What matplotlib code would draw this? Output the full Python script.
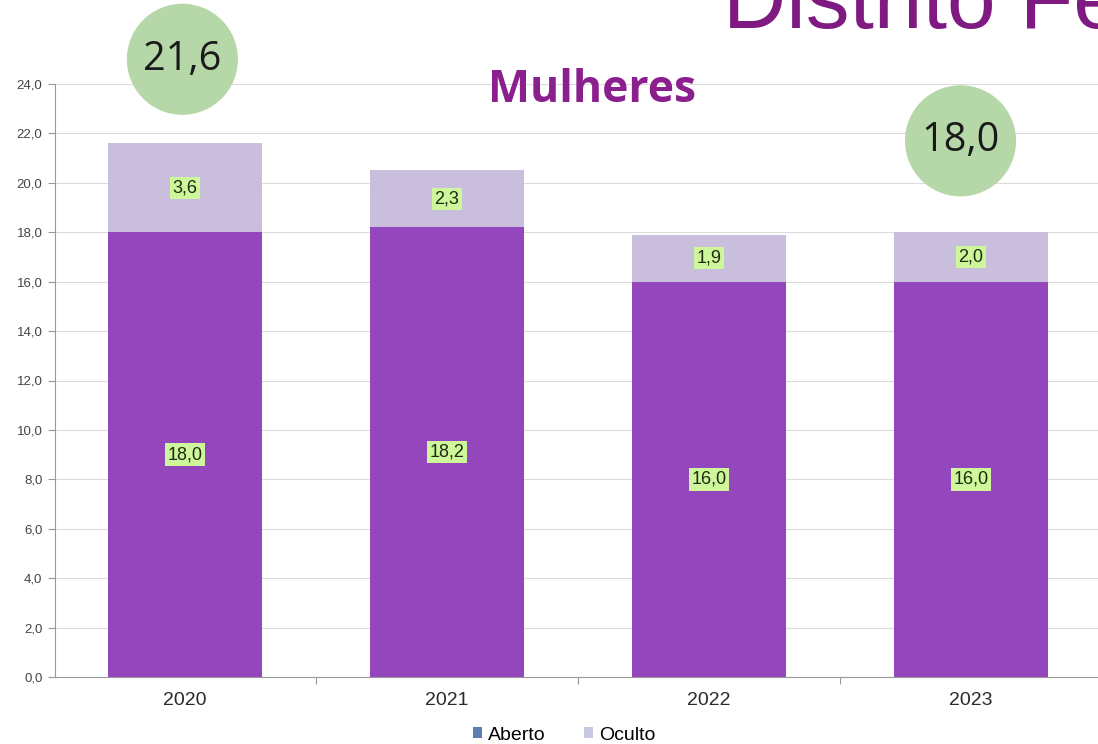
import matplotlib
matplotlib.use("Agg")
import matplotlib.pyplot as plt
from matplotlib.patches import Patch
import numpy as np

years = ["2020", "2021", "2022", "2023"]
aberto = [18.0, 18.2, 16.0, 16.0]
oculto = [3.6, 2.3, 1.9, 2.0]
circle_years = ["2020", "2023"]
circle_offsets = [3.4, 3.7]
y_ticks = [0, 2, 4, 6, 8, 10, 12, 14, 16, 18, 20, 22, 24]
series_names = ["Aberto", "Oculto"]

def br(v):
    return f"{v:.1f}".replace(".", ",")

fig = plt.figure(figsize=(10.98, 7.44), dpi=100)
fig.patch.set_facecolor("white")
ax = fig.add_axes([55/1098, 67/744, 1 - 55/1098, (677-84)/744])

x = np.arange(len(years))
w = 0.588
c_ab = "#9446BD"
c_oc = "#C9BFDC"
ax.bar(x, aberto, width=w, color=c_ab, edgecolor="none", zorder=3)
ax.bar(x, oculto, width=w, bottom=aberto, color=c_oc, edgecolor="none", zorder=3)

lbl_box = dict(boxstyle="square,pad=0.15", fc="#CDF79A", ec="none")
for i in range(len(years)):
    ax.text(x[i], aberto[i] / 2, br(aberto[i]), ha="center", va="center",
            fontsize=13, family="Liberation Sans", color="#1f2a10", bbox=lbl_box, zorder=5)
    ax.text(x[i], aberto[i] + oculto[i] / 2, br(oculto[i]), ha="center", va="center",
            fontsize=13, family="Liberation Sans", color="#1f2a10", bbox=lbl_box, zorder=5)

for yr, off in zip(circle_years, circle_offsets):
    i = years.index(yr)
    tot = aberto[i] + oculto[i]
    cx = x[i] - (0.04 if i == len(years) - 1 else 0.01)
    cy = tot + off
    ax.scatter([cx], [cy], s=80**2, color="#B6D7A8", edgecolors="none", clip_on=False, zorder=6)
    ax.text(cx, cy, br(tot), ha="center", va="center", fontsize=28.5,
            family="Open Sans", color="#1a1a1a", zorder=7, clip_on=False)

ax.set_xlim((55-185)/262, (1098-185)/262)
ax.set_ylim(0, 24)
ax.set_yticks(y_ticks)
ax.set_yticklabels([br(v) for v in y_ticks], fontsize=9.5, family="Liberation Sans", color="#444444")
ax.set_xticks(x)
ax.set_xticklabels(years, fontsize=14, family="Liberation Sans", color="#2a2a2a")
ax.set_xticks(x[:-1] + 0.5, minor=True)
ax.tick_params(axis="x", which="major", length=0, pad=11)
ax.tick_params(axis="x", which="minor", length=5, color="#999999", width=0.8)
ax.tick_params(axis="y", length=5, color="#999999", width=0.8, pad=4)
ax.grid(axis="y", color="#DCDCDC", linewidth=0.8, zorder=0)
ax.set_axisbelow(True)
for s in ["top", "right"]:
    ax.spines[s].set_visible(False)
for s in ["left", "bottom"]:
    ax.spines[s].set_color("#999999")
    ax.spines[s].set_linewidth(0.8)

fig.text(723/1098, 1 - 28/744, "Distrito Federal", fontsize=63, family="Liberation Sans",
         color="#7E1A82", ha="left", va="baseline")
fig.text(592/1098, 1 - 91/744, "Mulheres", fontsize=32, family="Open Sans", weight="bold",
         color="#8B1F8E", ha="center", va="center")

handles = [Patch(facecolor="#5B7FAF", edgecolor="none"), Patch(facecolor="#C9C8E2", edgecolor="none")]
fig.legend(handles, series_names, loc="center", bbox_to_anchor=(564/1098, 1 - 735/744),
           ncol=2, frameon=False, prop={"family": "Liberation Sans", "size": 14},
           handlelength=0.45, handleheight=0.45, handletextpad=0.3, columnspacing=2.0)

fig.savefig("out.png", dpi=100, facecolor="white")
